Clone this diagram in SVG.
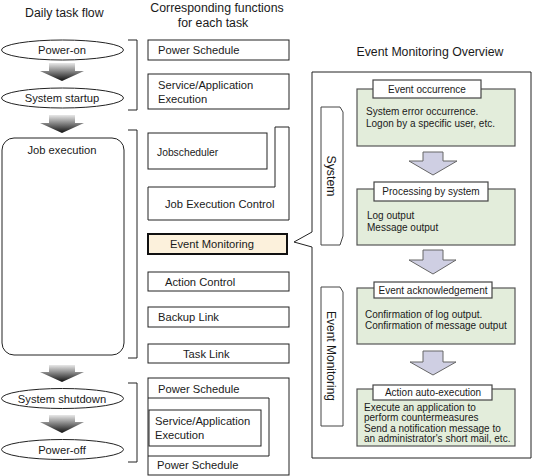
<svg xmlns="http://www.w3.org/2000/svg" width="533" height="476" viewBox="0 0 533 476">
<style>
text{font-family:"Liberation Sans",Arial,sans-serif;fill:#1a1a1a;dominant-baseline:central}
.ti{font-size:12.3px}
.bx{font-size:11.2px}
.sm{font-size:10px}
.box{fill:#fff;stroke:#222;stroke-width:1}
.ell{fill:#fff;stroke:#222;stroke-width:1}
.br{fill:none;stroke:#222;stroke-width:1}
.grn{fill:#e3eddb;stroke:#555;stroke-width:1.2}
.tab{fill:#fff;stroke:#444;stroke-width:1.2}
.bar{fill:#cfcfe3;stroke:#666;stroke-width:1}
.ga{fill:url(#g)}
.mid{text-anchor:middle}
</style>
<defs>
<linearGradient id="g" x1="0" y1="0" x2="0" y2="1">
<stop offset="0" stop-color="#e8e8e8"/>
<stop offset="1" stop-color="#111"/>
</linearGradient>
</defs>

<text class="ti" x="25" y="13">Daily task flow</text>
<text class="ti mid" x="217" y="8">Corresponding functions</text>
<text class="ti mid" x="213" y="23">for each task</text>
<text class="ti mid" x="430" y="52">Event Monitoring Overview</text>

<g id="overview-frame"><path fill="#fff" stroke="#222" stroke-width="1" d="M312,72 H531 V458 H312 V247 L294,242 L312,232 Z"/></g>

<g id="power-on"><ellipse class="ell" cx="62.5" cy="50" rx="61" ry="10"/><text class="bx mid" x="62" y="50">Power-on</text></g>
<g id="system-startup"><ellipse class="ell" cx="62.5" cy="98" rx="61" ry="10"/><text class="bx mid" x="62" y="98">System startup</text></g>
<g id="job-execution"><rect class="box" x="2" y="138" width="122" height="217" rx="12"/><text class="bx mid" x="62" y="150">Job execution</text></g>
<g id="system-shutdown"><ellipse class="ell" cx="62.5" cy="398.5" rx="61" ry="10"/><text class="bx mid" x="62" y="398.5">System shutdown</text></g>
<g id="power-off"><ellipse class="ell" cx="62.5" cy="449.5" rx="61" ry="10"/><text class="bx mid" x="62" y="449.5">Power-off</text></g>

<g id="connectors">
<path class="ga" d="M49,63 H75 V71 H84 L62,81 L40,71 H49 Z"/>
<path class="ga" d="M49,115 H75 V123 H84 L62,133 L40,123 H49 Z"/>
<path class="ga" d="M49,365 H75 V372 H84 L62,382 L40,372 H49 Z"/>
<path class="ga" d="M49,415 H75 V422 H84 L62,433 L40,422 H49 Z"/>
<path class="br" d="M128,40 H137 V110 H128"/>
<path class="br" d="M128,130 H137 V358 H128"/>
<path class="br" d="M128,383 H137 V462 H128"/>
<path class="bar" d="M423,152 H443 V161 H457 L433,175 L409,161 H423 Z"/>
<path class="bar" d="M423,250 H443 V260 H456 L433,274 L409,260 H423 Z"/>
<path class="bar" d="M423,351 H443 V362 H456 L433,375 L410,362 H423 Z"/>
</g>

<g id="power-schedule-1"><rect class="box" x="148" y="40" width="141" height="20"/><text class="bx" x="158" y="50">Power Schedule</text></g>
<g id="service-app-1"><rect class="box" x="148" y="74" width="141" height="35"/><text class="bx" x="158" y="85">Service/Application</text><text class="bx" x="158" y="98.5">Execution</text></g>
<g id="jobscheduler"><rect class="box" x="148" y="133" width="119" height="36"/><text class="bx" style="font-size:10.3px" x="157" y="152">Jobscheduler</text></g>
<g id="job-execution-control"><path class="box" d="M275,127 H289 V220 H148 V187 H275 Z"/><text class="bx" x="165" y="204">Job Execution Control</text></g>
<g id="event-monitoring"><rect x="148" y="234" width="139" height="20" fill="#fcf1dc" stroke="#111" stroke-width="2"/><text class="bx" x="170" y="244">Event Monitoring</text></g>
<g id="action-control"><rect class="box" x="148" y="272" width="141" height="19"/><text class="bx" x="165" y="282">Action Control</text></g>
<g id="backup-link"><rect class="box" x="148" y="307" width="141" height="20"/><text class="bx" x="158" y="317">Backup Link</text></g>
<g id="task-link"><rect class="box" x="148" y="344" width="141" height="19"/><text class="bx" x="183" y="354">Task Link</text></g>
<g id="power-schedule-2"><rect class="box" x="148" y="378" width="141" height="97"/><path class="br" d="M148,398 H269 V456 H148"/><text class="bx" x="158" y="389">Power Schedule</text><text class="bx" x="157" y="465">Power Schedule</text></g>
<g id="service-app-2"><rect class="box" x="149" y="410" width="112" height="36"/><text class="bx" x="155" y="421">Service/Application</text><text class="bx" x="155" y="435">Execution</text></g>

<g id="system-label"><path fill="#fff" stroke="#444" stroke-width="1" d="M321,107 H340 L343,112 V236 L340,245 H321 Z"/><text class="ti mid" transform="translate(331,176) rotate(90)" x="0" y="0">System</text></g>
<g id="em-label"><path fill="#fff" stroke="#444" stroke-width="1" d="M321,287 H340 L343,292 V417 L343,426 H321 Z"/><text class="mid" style="font-size:12px" transform="translate(331,356) rotate(90)" x="0" y="0">Event Monitoring</text></g>

<g id="event-occurrence"><rect class="grn" x="357" y="89" width="158" height="57"/><rect class="tab" x="373" y="80" width="108" height="18"/><text class="sm mid" x="427" y="89">Event occurrence</text><text class="sm" x="366" y="111">System error occurrence.</text><text class="sm" x="366" y="123">Logon by a specific user, etc.</text></g>
<g id="processing-by-system"><rect class="grn" x="357" y="189" width="158" height="56"/><rect class="tab" x="374" y="182" width="114" height="19"/><text class="sm mid" x="431" y="191.5">Processing by system</text><text class="sm" x="367" y="215.5">Log output</text><text class="sm" x="367" y="227">Message output</text></g>
<g id="event-acknowledgement"><rect class="grn" x="357" y="288" width="158" height="56"/><rect class="tab" x="374" y="282" width="118" height="16"/><text class="sm mid" x="433" y="290">Event acknowledgement</text><text class="sm" x="365" y="314">Confirmation of log output.</text><text class="sm" x="365" y="325">Confirmation of message output</text></g>
<g id="action-auto-execution"><rect class="grn" x="357" y="389" width="158" height="57"/><rect class="tab" x="373" y="385" width="119" height="15"/><text class="sm mid" x="433" y="392.5">Action auto-execution</text><text class="sm" x="364" y="407.5">Execute an application to</text><text class="sm" x="364" y="417.5">perform countermeasures</text><text class="sm" x="364" y="428">Send a notification message to</text><text class="sm" x="364" y="438">an administrator's short mail, etc.</text></g>
</svg>
